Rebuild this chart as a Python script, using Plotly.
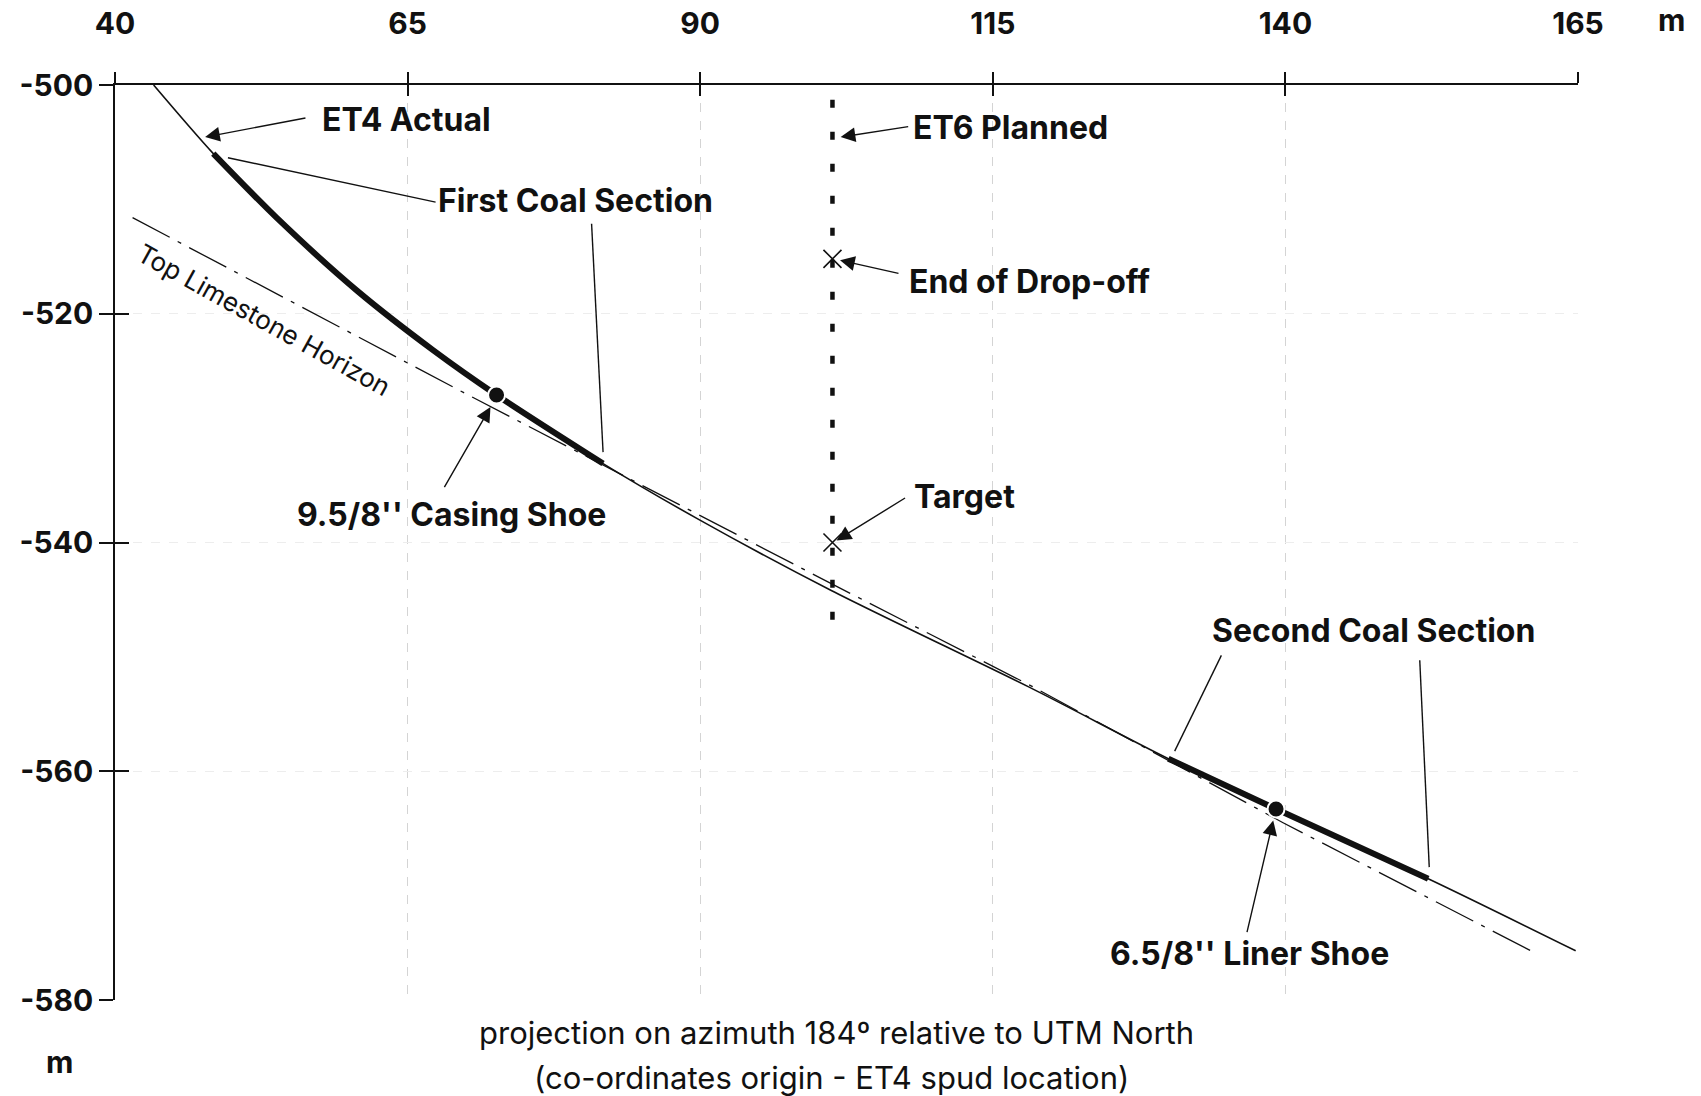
import plotly.graph_objects as go

# ---- ET4 actual well path: offset along section (m) and elevation (m) ----
et4_x = [43.3, 48.4, 53.8, 60.7, 67.2, 72.6, 81.7, 89.9, 101.2, 118.4, 130.0, 139.2, 152.2, 164.8]
et4_y = [-500.0, -506.0, -511.6, -518.0, -523.2, -527.1, -533.1, -538.0, -544.2, -552.8, -558.9, -563.3, -569.4, -575.7]

# coal intervals, given as index ranges along the ET4 path
coal_first = (1, 6)
coal_second = (10, 12)

# ---- top of limestone horizon ----
lime_x = [41.5, 69.8, 101.2, 118.4, 139.8, 161.45]
lime_y = [-511.6, -526.9, -543.6, -552.6, -564.5, -575.95]

# ---- ET6 planned (vertical) and its key points ----
et6_x = [101.3, 101.3]
et6_y = [-501.3, -548.0]
et6_pts_x = [101.3, 101.3]
et6_pts_y = [-515.2, -540.0]          # end of drop-off, target

# ---- casing / liner shoes ----
shoe_x = [72.6, 139.2]
shoe_y = [-527.1, -563.3]

# ---- axes ----
x_ticks = [40, 65, 90, 115, 140, 165]
y_ticks = [-500, -520, -540, -560, -580]
y_tick_text = ["-500", "-520", "-540", "-560", "-580"]

# ---- labels: text, text x, text y ----
labels = [
    ("ET4 Actual", 57.55, -503.0),
    ("First Coal Section", 67.45, -510.1),
    ("ET6 Planned", 108.05, -503.75),
    ("End of Drop-off", 107.65, -517.15),
    ("Target", 108.1, -535.96),
    ("9.5/8'' Casing Shoe", 55.4, -537.54),
    ("Second Coal Section", 133.6, -547.7),
    ("6.5/8'' Liner Shoe", 124.85, -575.96),
]

# arrows: tail x, tail y, tip x, tip y
arrows = [
    (56.4, -502.86, 47.7, -504.55),
    (107.9, -503.62, 102.0, -504.55),
    (107.07, -516.5, 101.95, -515.33),
    (107.63, -536.03, 101.65, -539.82),
    (68.07, -535.29, 72.08, -528.16),
    (136.69, -574.2, 138.96, -564.3),
]

# plain leader lines: x0, y0, x1, y1
leaders = [
    (67.39, -510.24, 49.65, -506.36),
    (80.72, -512.13, 81.7, -532.1),
    (134.53, -549.87, 130.54, -558.24),
    (151.48, -550.3, 152.29, -568.38),
]

FONT = "Inter, Liberation Sans, Arial, sans-serif"
INK = "#111111"

fig = go.Figure()

fig.add_trace(go.Scatter(
    x=lime_x, y=lime_y, mode="lines",
    line=dict(color=INK, width=1.3, dash="42px,9px,4px,9px"),
    hoverinfo="skip"))

fig.add_trace(go.Scatter(
    x=et4_x, y=et4_y, mode="lines",
    line=dict(color=INK, width=1.6, shape="spline", smoothing=0.8),
    hoverinfo="skip"))

for a, b in (coal_first, coal_second):
    fig.add_trace(go.Scatter(
        x=et4_x[a:b + 1], y=et4_y[a:b + 1], mode="lines",
        line=dict(color=INK, width=6, shape="spline", smoothing=0.8),
        hoverinfo="skip"))

fig.add_trace(go.Scatter(
    x=et6_x, y=et6_y, mode="lines",
    line=dict(color=INK, width=4.5, dash="8px,24px"),
    hoverinfo="skip"))

fig.add_trace(go.Scatter(
    x=et6_pts_x, y=et6_pts_y, mode="markers",
    marker=dict(symbol="x-thin", size=18, line=dict(color=INK, width=1.6)),
    hoverinfo="skip"))

fig.add_trace(go.Scatter(
    x=shoe_x, y=shoe_y, mode="markers",
    marker=dict(symbol="circle", size=17, color=INK, line=dict(color="white", width=2)),
    hoverinfo="skip"))

# invisible trace so the overlay axes (inner tick halves) are drawn
fig.add_trace(go.Scatter(x=[40, 165], y=[-580, -500], xaxis="x2", yaxis="y2",
                         mode="markers", marker=dict(opacity=0), hoverinfo="skip",
                         showlegend=False))

for text, tx, ty in labels:
    fig.add_annotation(x=tx, y=ty, xref="x", yref="y", text=text, showarrow=False,
                       xanchor="left", yanchor="middle",
                       font=dict(family=FONT, size=32, color=INK, weight="bold"))

for ax_, ay_, x_, y_ in arrows:
    fig.add_annotation(x=x_, y=y_, ax=ax_, ay=ay_, xref="x", yref="y",
                       axref="x", ayref="y", text="", showarrow=True,
                       arrowhead=2, arrowsize=2.1, arrowwidth=1.4, arrowcolor=INK)

for x0, y0, x1, y1 in leaders:
    fig.add_shape(type="line", x0=x0, y0=y0, x1=x1, y1=y1, xref="x", yref="y",
                  line=dict(color=INK, width=1.4))

fig.add_annotation(x=52.7, y=-520.5, xref="x", yref="y", text="Top Limestone Horizon",
                   showarrow=False, textangle=29,
                   font=dict(family=FONT, size=26, color=INK))

fig.add_annotation(x=1.064, y=1.071, xref="paper", yref="paper", text="m",
                   showarrow=False, xanchor="center", yanchor="middle",
                   font=dict(family=FONT, size=30, color=INK, weight="bold"))
fig.add_annotation(x=-0.038, y=-0.068, xref="paper", yref="paper", text="m",
                   showarrow=False, xanchor="center", yanchor="middle",
                   font=dict(family=FONT, size=30, color=INK, weight="bold"))
fig.add_annotation(x=0.4935, y=-0.036, xref="paper", yref="paper",
                   text="projection on azimuth 184º relative to UTM North",
                   showarrow=False, xanchor="center", yanchor="middle",
                   font=dict(family=FONT, size=31, color=INK))
fig.add_annotation(x=0.490, y=-0.085, xref="paper", yref="paper",
                   text="(co-ordinates origin - ET4 spud location)",
                   showarrow=False, xanchor="center", yanchor="middle",
                   font=dict(family=FONT, size=31, color=INK))

tick_font = dict(family=FONT, size=30, color=INK, weight="bold")

fig.update_layout(
    width=1701, height=1096,
    margin=dict(l=115, r=123, t=85, b=96, autoexpand=False),
    paper_bgcolor="white", plot_bgcolor="white",
    showlegend=False,
    xaxis=dict(range=[40, 165], side="top", tickvals=x_ticks, ticks="outside",
               ticklen=11, tickwidth=1.5, tickcolor=INK, showline=True,
               linecolor=INK, linewidth=1.5, showgrid=True, gridcolor="#d4d4d4",
               gridwidth=1, griddash="dash", zeroline=False, tickfont=tick_font,
               ticklabelstandoff=26, automargin=False),
    yaxis=dict(range=[-580, -500], tickvals=y_ticks, ticktext=y_tick_text,
               ticks="outside", ticklen=14,
               tickwidth=1.5, tickcolor=INK, showline=True, linecolor=INK,
               linewidth=1.5, showgrid=True, gridcolor="#ededed", gridwidth=1,
               griddash="dash", zeroline=False, tickfont=tick_font,
               ticklabelstandoff=0, automargin=False),
    xaxis2=dict(range=[40, 165], overlaying="x", side="top", tickvals=x_ticks,
                ticks="inside", ticklen=11, tickwidth=1.5, tickcolor=INK,
                showticklabels=False, showgrid=False, showline=False, zeroline=False,
                automargin=False),
    yaxis2=dict(range=[-580, -500], overlaying="y", side="left", tickvals=y_ticks,
                ticks="inside", ticklen=14, tickwidth=1.5, tickcolor=INK,
                showticklabels=False, showgrid=False, showline=False, zeroline=False,
                automargin=False),
)

fig.write_html("out.html")
